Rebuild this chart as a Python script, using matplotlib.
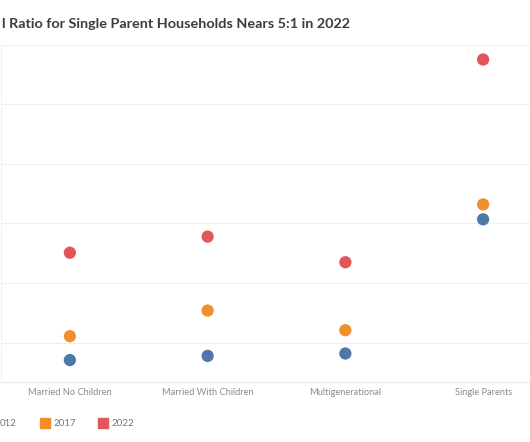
import matplotlib
matplotlib.use("Agg")
import matplotlib.pyplot as plt
import numpy as np

categories = ["Married No Children", "Married With Children", "Multigenerational", "Single Parents"]
years = ["2012", "2017", "2022"]
values_2012 = [-0.29, -0.22, -0.18, 2.07]
values_2017 = [0.11, 0.54, 0.21, 2.32]
values_2022 = [1.51, 1.78, 1.35, 4.75]
colors = ["#4e79a7", "#f28e2b", "#e15759"]
title = "l Ratio for Single Parent Households Nears 5:1 in 2022"

W, H = 530, 442
fig = plt.figure(figsize=(W / 100, H / 100), dpi=100)
fig.patch.set_facecolor("white")

def fx(px):
    return px / W

def fy(py):
    return 1 - py / H

left, right, top, bottom = 1, 552, 44.3, 381.7
ax = fig.add_axes([fx(left), fy(bottom), (right - left) / W, (bottom - top) / H])
ax.set_xlim(-0.5, len(categories) - 0.5)
ax.set_ylim(-0.653, 5.005)

for i in range(6):
    ax.axhline(i, color="#efefef", lw=0.8, zorder=0)

x = np.arange(len(categories))
for vals, c in zip([values_2012, values_2017, values_2022], colors):
    ax.scatter(x, vals, s=78, color=c, edgecolors="none", zorder=3)

for s in ["top", "right"]:
    ax.spines[s].set_visible(False)
ax.spines["left"].set_color("#f0f0f0")
ax.spines["left"].set_linewidth(0.8)
ax.spines["bottom"].set_color("#e8e8e8")
ax.spines["bottom"].set_linewidth(0.8)
ax.set_yticks([])
ax.set_xticks(x)
ax.set_xticklabels(categories, fontsize=6.7, color="#8a8a8a", family="Lato")
ax.tick_params(axis="x", length=0, pad=4.5)

fig.text(fx(2), fy(24), title, fontsize=10.4, fontweight="bold", color="#3c3c3c",
         family="Lato", ha="left", va="center")

# legend (the reference is cropped at the left edge: only part of "2012" shows)
legend_x = [-5, 54, 112]
for yr, c, tx in zip(years, colors, legend_x):
    fig.patches.append(plt.Rectangle((fx(tx - 14), fy(428.3)), 10 / W, 10 / H,
                                     transform=fig.transFigure, color=c, figure=fig))
    label = yr
    pos = tx
    if tx < 0:
        label = yr[1:]
        pos = 0
    fig.text(fx(pos), fy(423.3), label, fontsize=7, color="#777777", family="Lato",
             ha="left", va="center")

fig.savefig("out.png", dpi=100, facecolor="white")
